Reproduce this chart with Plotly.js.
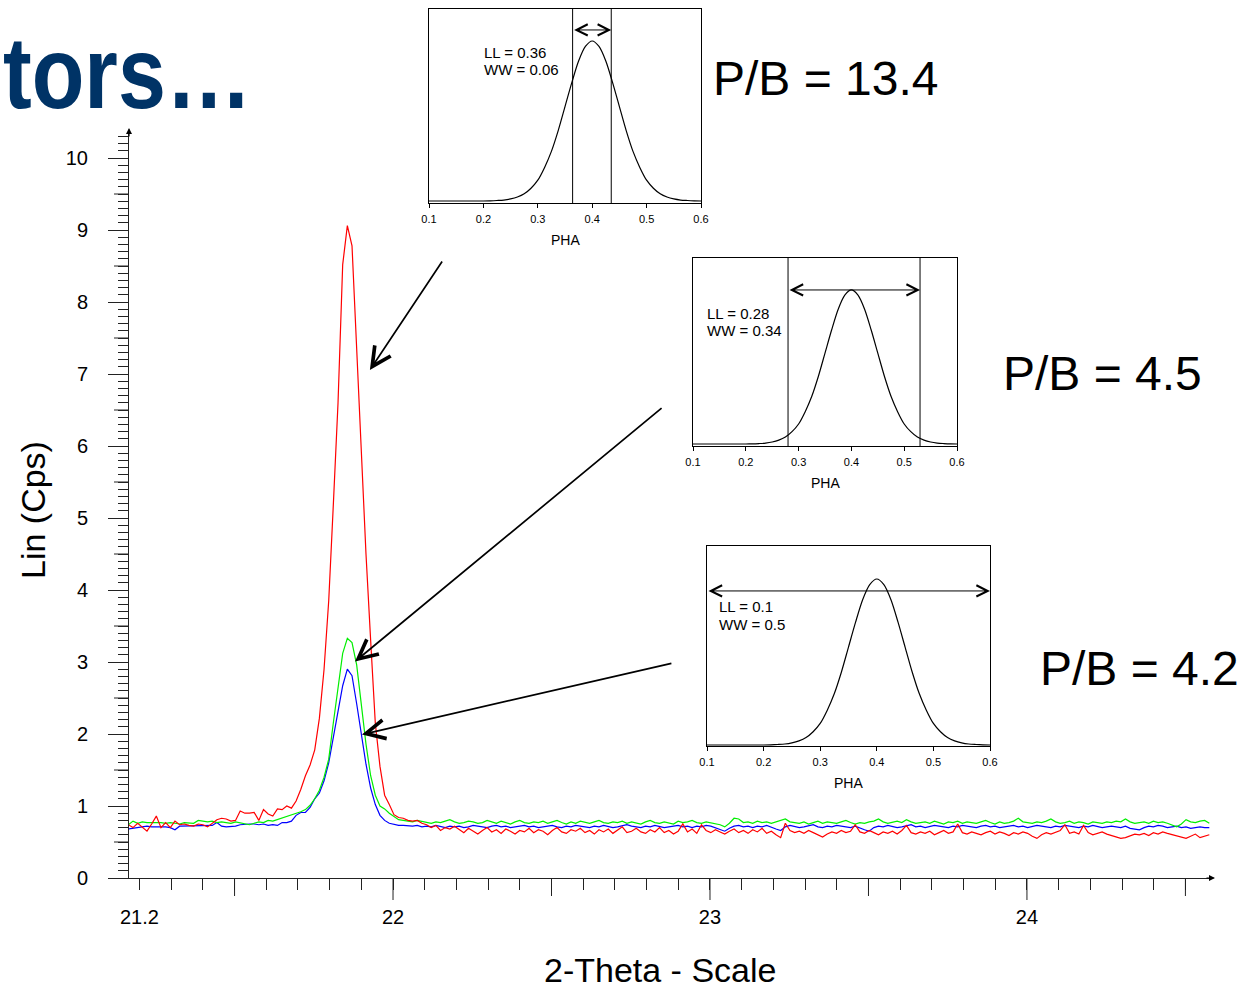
<!DOCTYPE html>
<html><head><meta charset="utf-8">
<script src="https://cdn.plot.ly/plotly-3.0.1.min.js"></script>
<style>html,body{margin:0;padding:0;background:#fff;} #chart{width:1253px;height:988px;}</style>
</head><body><div id="chart"></div>
<script>
// ---------------- data ----------------
const twoThetaStart = 21.165;
const twoThetaStep = 0.0147;

const redCps = [
0.74,0.70,0.76,0.70,0.65,0.75,0.86,0.70,0.77,0.70,0.79,0.74,0.75,0.73,0.72,0.75,0.74,0.71,0.76,0.81,0.83,0.82,0.79,0.80,0.93,0.90,0.90,0.91,0.80,0.95,0.89,0.86,0.96,
0.95,1.00,0.97,1.07,1.23,1.42,1.57,1.78,2.22,2.90,3.85,5.20,6.60,8.52,9.06,8.78,7.35,5.90,4.50,3.30,2.15,1.55,1.15,1.02,0.88,0.84,0.83,0.80,
0.79,0.80,0.76,0.74,0.70,0.73,0.66,0.70,0.68,0.72,
0.67,0.63,0.69,0.65,0.61,0.66,0.70,0.64,0.67,0.62,
0.68,0.65,0.61,0.66,0.64,0.69,0.63,0.67,0.65,0.60,
0.66,0.70,0.64,0.62,0.67,0.65,0.69,0.63,0.66,0.61,
0.67,0.64,0.68,0.62,0.66,0.71,0.63,0.65,0.69,0.64,
0.62,0.67,0.64,0.70,0.63,0.66,0.61,0.65,0.75,0.64,
0.68,0.62,0.74,0.66,0.63,0.67,0.64,0.61,0.65,0.68,
0.63,0.66,0.62,0.67,0.64,0.69,0.62,0.65,0.60,0.56,
0.76,0.66,0.63,0.65,0.62,0.66,0.63,0.60,0.57,0.61,
0.64,0.62,0.66,0.63,0.65,0.74,0.64,0.62,0.66,0.63,
0.60,0.64,0.62,0.65,0.61,0.66,0.73,0.63,0.61,0.64,
0.62,0.65,0.60,0.63,0.66,0.62,0.64,0.75,0.63,0.61,
0.64,0.62,0.60,0.63,0.65,0.61,0.64,0.62,0.59,0.63,
0.61,0.64,0.62,0.58,0.55,0.60,0.63,0.61,0.64,0.66,
0.74,0.62,0.64,0.61,0.73,0.63,0.60,0.62,0.64,0.61,
0.59,0.57,0.55,0.56,0.58,0.61,0.60,0.62,0.59,0.63,
0.61,0.64,0.62,0.60,0.58,0.57,0.55,0.58,0.61,0.56,
0.58,0.60
];

const greenCps = [
0.74,0.79,0.76,0.78,0.77,0.77,0.78,0.77,0.76,0.77,0.76,0.75,0.77,0.77,0.76,0.80,0.79,0.78,0.79,0.77,0.78,0.77,0.76,0.78,0.77,0.75,0.74,0.76,0.78,0.77,0.80,0.79,0.81,
0.83,0.85,0.87,0.89,0.92,0.95,1.01,1.10,1.22,1.40,1.65,2.16,2.66,3.12,3.33,3.27,2.96,2.42,1.86,1.42,1.15,1.00,0.96,0.90,0.85,0.81,0.80,0.79,
0.78,0.80,0.79,0.77,0.76,0.78,0.77,0.79,0.81,0.78,
0.76,0.77,0.79,0.78,0.76,0.77,0.80,0.78,0.76,0.79,
0.77,0.75,0.78,0.80,0.77,0.76,0.78,0.77,0.79,0.76,
0.78,0.80,0.77,0.75,0.78,0.76,0.79,0.77,0.76,0.78,
0.80,0.77,0.76,0.78,0.77,0.79,0.76,0.78,0.77,0.75,
0.78,0.80,0.77,0.76,0.78,0.77,0.75,0.79,0.77,0.78,
0.80,0.77,0.76,0.78,0.77,0.75,0.74,0.71,0.76,0.83,
0.82,0.77,0.78,0.76,0.79,0.77,0.78,0.76,0.78,0.79,
0.82,0.78,0.77,0.76,0.78,0.75,0.77,0.79,0.76,0.78,
0.77,0.76,0.78,0.80,0.77,0.75,0.77,0.76,0.78,0.79,
0.82,0.78,0.76,0.77,0.79,0.77,0.81,0.78,0.76,0.77,
0.78,0.76,0.79,0.77,0.75,0.78,0.77,0.79,0.76,0.78,
0.77,0.76,0.78,0.80,0.77,0.75,0.78,0.76,0.77,0.79,
0.83,0.78,0.77,0.76,0.78,0.77,0.79,0.82,0.78,0.76,
0.77,0.79,0.76,0.78,0.77,0.75,0.78,0.77,0.76,0.78,
0.77,0.79,0.78,0.82,0.78,0.76,0.77,0.78,0.76,0.79,
0.77,0.78,0.76,0.74,0.71,0.75,0.81,0.78,0.77,0.79,
0.80,0.76
];

const blueCps = [
0.68,0.69,0.71,0.71,0.72,0.71,0.71,0.72,0.71,0.70,0.67,0.72,0.72,0.73,0.72,0.72,0.73,0.72,0.73,0.77,0.72,0.71,0.71,0.72,0.74,0.75,0.75,0.75,0.74,0.75,0.73,0.74,0.73,
0.77,0.77,0.79,0.87,0.91,0.91,0.98,1.10,1.18,1.35,1.60,1.95,2.27,2.67,2.90,2.81,2.42,1.97,1.58,1.25,1.02,0.87,0.80,0.76,0.74,0.73,0.73,0.72,
0.72,0.73,0.71,0.72,0.71,0.73,0.72,0.70,0.72,0.71,
0.72,0.70,0.71,0.73,0.72,0.71,0.70,0.72,0.73,0.71,
0.72,0.70,0.71,0.72,0.73,0.71,0.72,0.70,0.71,0.72,
0.73,0.71,0.70,0.72,0.71,0.73,0.72,0.71,0.70,0.72,
0.71,0.73,0.72,0.70,0.71,0.72,0.74,0.72,0.71,0.70,
0.72,0.71,0.73,0.72,0.70,0.71,0.72,0.73,0.71,0.72,
0.70,0.72,0.71,0.73,0.72,0.70,0.68,0.65,0.69,0.72,
0.73,0.71,0.72,0.70,0.72,0.71,0.73,0.70,0.68,0.66,
0.71,0.73,0.72,0.70,0.71,0.72,0.74,0.71,0.70,0.72,
0.71,0.73,0.72,0.71,0.70,0.72,0.69,0.67,0.65,0.70,
0.72,0.71,0.73,0.72,0.70,0.71,0.72,0.74,0.71,0.72,
0.70,0.71,0.73,0.72,0.71,0.70,0.72,0.71,0.73,0.72,
0.71,0.70,0.72,0.73,0.71,0.72,0.70,0.71,0.72,0.73,
0.71,0.72,0.70,0.71,0.73,0.72,0.71,0.70,0.72,0.71,
0.73,0.72,0.71,0.70,0.72,0.71,0.73,0.72,0.70,0.71,
0.72,0.71,0.70,0.72,0.69,0.68,0.67,0.70,0.72,0.71,
0.73,0.72,0.70,0.71,0.72,0.70,0.71,0.69,0.70,0.71,
0.70,0.70
];

const xLabelTicks = [21.2, 22, 23, 24];
const xLabelText = ['21.2', '22', '23', '24'];
const xLongTicks = [22, 23, 24];
const xHalfTicks = [21.5, 22.5, 23.5, 24.5];
const yMajorTicks = [0, 1, 2, 3, 4, 5, 6, 7, 8, 9, 10];
const yHalfTicks = [0.5, 1.5, 2.5, 3.5, 4.5, 5.5, 6.5, 7.5, 8.5, 9.5];

// pulse-height spectrum shown in the three insets
const phaStart = 0.1;
const phaStep = 0.0125;
const phaCounts = [0,0,0,0,0,0,0,0,0,0.001,0.003,0.006,0.013,0.025,0.045,0.08,0.13,0.21,0.31,0.44,0.59,0.74,0.875,0.966,1.0,
                   0.966,0.875,0.74,0.59,0.44,0.31,0.21,0.13,0.08,0.045,0.025,0.013,0.006,0.003,0.001,0];
const phaTicks = [0.1, 0.2, 0.3, 0.4, 0.5, 0.6];
const phaTickLabels = ['0.1', '0.2', '0.3', '0.4', '0.5', '0.6'];
const windowLower = [0.364, 0.28, 0.1];
const windowUpper = [0.435, 0.53, 0.6];
const llLabels = ['LL = 0.36', 'LL = 0.28', 'LL = 0.1'];
const wwLabels = ['WW = 0.06', 'WW = 0.34', 'WW = 0.5'];
const pbLabels = ['P/B = 13.4', 'P/B = 4.5', 'P/B = 4.2'];

// arrows pointing from each inset to its peak (2-theta, cps)
const arrowTipX = [21.927, 21.880, 21.902];
const arrowTipY = [7.056, 3.007, 1.993];
const arrowTailX = [22.158, 22.852, 22.883];
const arrowTailY = [8.583, 6.542, 2.986];

// ---------------- layout helpers ----------------
const W = 1253, H = 988;
const fx = p => p / W;
const fy = p => (H - p) / H;
const FONT = 'Liberation Sans, Arial, Helvetica, sans-serif';
const AX = '#222';

const main = {l: 129, r: 1213, t: 130, b: 878};
const xRange = [21.167, 24.587];
const yRange = [0, 10.389];

const insets = [
  {l: 429, r: 701, t: 9,   b: 203, yr: [-0.0125, 1.2],    arrowY: 1.069, textX: 482, textY: [52, 69],   pbX: 711, pbY: 78},
  {l: 693, r: 957, t: 258, b: 446, yr: [-0.0129, 1.2075], arrowY: 1.0,   textX: 705, textY: [313, 330], pbX: 1001, pbY: 373},
  {l: 707, r: 990, t: 546, b: 746, yr: [-0.006, 1.1988],  arrowY: 0.928, textX: 717, textY: [606, 624], pbX: 1038, pbY: 668}
];

const traces = [
  {type: 'scatter', mode: 'lines', x0: twoThetaStart, dx: twoThetaStep, y: blueCps,  line: {color: '#0000ff', width: 1.2}, xaxis: 'x', yaxis: 'y', name: 'LL 0.1'},
  {type: 'scatter', mode: 'lines', x0: twoThetaStart, dx: twoThetaStep, y: greenCps, line: {color: '#00ee00', width: 1.2}, xaxis: 'x', yaxis: 'y', name: 'LL 0.28'},
  {type: 'scatter', mode: 'lines', x0: twoThetaStart, dx: twoThetaStep, y: redCps,   line: {color: '#ff0000', width: 1.2}, xaxis: 'x', yaxis: 'y', name: 'LL 0.36'}
];

const layout = {
  width: W, height: H,
  margin: {l: 0, r: 0, t: 0, b: 0},
  paper_bgcolor: '#fff', plot_bgcolor: 'rgba(0,0,0,0)',
  showlegend: false, hovermode: false,
  font: {family: FONT, color: '#000'},
  xaxis: {
    domain: [fx(main.l), fx(main.r)], range: xRange, anchor: 'y',
    showline: true, linecolor: AX, linewidth: 1, showgrid: false, zeroline: false,
    tickmode: 'array', tickvals: xLabelTicks, ticktext: xLabelText,
    ticks: 'outside', ticklen: 11, tickwidth: 1, tickcolor: AX,
    tickfont: {family: FONT, size: 20, color: '#000'}, ticklabelstandoff: 10,
    minor: {ticks: 'outside', tickmode: 'linear', tick0: 0, dtick: 0.1, ticklen: 11, tickwidth: 1, tickcolor: AX, showgrid: false}
  },
  yaxis: {
    domain: [fy(main.b), fy(main.t)], range: yRange, anchor: 'x',
    showline: true, linecolor: AX, linewidth: 1, showgrid: false, zeroline: false,
    tickmode: 'array', tickvals: yMajorTicks,
    ticks: 'outside', ticklen: 20, tickwidth: 1, tickcolor: AX,
    tickfont: {family: FONT, size: 20, color: '#000'}, ticklabelstandoff: 16,
    minor: {ticks: 'outside', tickmode: 'linear', tick0: 0, dtick: 0.1, ticklen: 10, tickwidth: 1, tickcolor: AX, showgrid: false}
  },
  shapes: [],
  annotations: []
};

// longer ticks at whole and half degrees, half counts
xLongTicks.forEach(v => layout.shapes.push({type: 'line', xref: 'x', yref: 'paper', ysizemode: 'pixel', yanchor: fy(main.b),
  x0: v, x1: v, y0: 0, y1: -22, line: {color: AX, width: 1}}));
xHalfTicks.forEach(v => layout.shapes.push({type: 'line', xref: 'x', yref: 'paper', ysizemode: 'pixel', yanchor: fy(main.b),
  x0: v, x1: v, y0: 0, y1: -18, line: {color: AX, width: 1}}));
yHalfTicks.forEach(v => layout.shapes.push({type: 'line', xref: 'paper', yref: 'y', xsizemode: 'pixel', xanchor: fx(main.l),
  x0: 0, x1: -15, y0: v, y1: v, line: {color: AX, width: 1}}));

insets.forEach((ins, k) => {
  const xa = 'x' + (k + 2), ya = 'y' + (k + 2);
  layout['xaxis' + (k + 2)] = {
    domain: [fx(ins.l), fx(ins.r)], range: [0.1, 0.6], anchor: ya,
    showline: true, mirror: true, linecolor: '#000', linewidth: 1, showgrid: false, zeroline: false,
    tickmode: 'array', tickvals: phaTicks, ticktext: phaTickLabels,
    ticks: 'outside', ticklen: 4, tickwidth: 1, tickcolor: '#000',
    tickfont: {family: FONT, size: 11, color: '#000'}, ticklabelstandoff: 2
  };
  layout['yaxis' + (k + 2)] = {
    domain: [fy(ins.b), fy(ins.t)], range: ins.yr, anchor: xa,
    showline: true, mirror: true, linecolor: '#000', linewidth: 1, showgrid: false, zeroline: false,
    ticks: '', showticklabels: false
  };
  traces.push({type: 'scatter', mode: 'lines', x0: phaStart, dx: phaStep, y: phaCounts,
    line: {color: '#000', width: 1.2, shape: 'spline', smoothing: 0.8}, xaxis: xa, yaxis: ya, name: 'PHA ' + (k + 1)});
  if (k < 2) {
    [windowLower[k], windowUpper[k]].forEach(v => layout.shapes.push({
      type: 'line', xref: xa, yref: ya + ' domain', x0: v, x1: v, y0: 0, y1: 1, line: {color: '#000', width: 1}
    }));
  }
  layout.annotations.push({
    xref: xa, yref: ya, axref: xa, ayref: ya,
    x: windowUpper[k], y: ins.arrowY, ax: windowLower[k], ay: ins.arrowY,
    text: '', showarrow: true, arrowside: 'end+start', arrowhead: 5, startarrowhead: 5,
    arrowsize: 2.2, startarrowsize: 2.2, arrowwidth: 1, arrowcolor: '#000', standoff: 0, startstandoff: 0
  });
  layout.annotations.push({xref: 'paper', yref: 'paper', x: fx(ins.textX), y: fy(ins.textY[0]), xanchor: 'left', yanchor: 'middle',
    text: llLabels[k], showarrow: false, font: {family: FONT, size: 15, color: '#000'}});
  layout.annotations.push({xref: 'paper', yref: 'paper', x: fx(ins.textX), y: fy(ins.textY[1]), xanchor: 'left', yanchor: 'middle',
    text: wwLabels[k], showarrow: false, font: {family: FONT, size: 15, color: '#000'}});
  layout.annotations.push({xref: 'paper', yref: 'paper', x: fx((ins.l + ins.r) / 2), y: fy(ins.b + 37), xanchor: 'center', yanchor: 'middle',
    text: 'PHA', showarrow: false, font: {family: FONT, size: 14, color: '#000'}});
  layout.annotations.push({xref: 'paper', yref: 'paper', x: fx(ins.pbX), y: fy(ins.pbY), xanchor: 'left', yanchor: 'middle',
    text: pbLabels[k], showarrow: false, font: {family: FONT, size: 48, color: '#000'}});
});

// arrows from the insets to the peaks
arrowTipX.forEach((tx, k) => layout.annotations.push({
  xref: 'x', yref: 'y', axref: 'x', ayref: 'y',
  x: tx, y: arrowTipY[k], ax: arrowTailX[k], ay: arrowTailY[k],
  text: '', showarrow: true, arrowhead: 5, arrowsize: 2.2, arrowwidth: 1.7, arrowcolor: '#000', standoff: 0
}));

// axis-end arrowheads
layout.annotations.push({xref: 'paper', yref: 'paper', x: fx(main.l), y: fy(main.t - 2), ax: 0, ay: 10,
  text: '', showarrow: true, arrowhead: 2, arrowsize: 1, arrowwidth: 1.2, arrowcolor: '#000', standoff: 0});
layout.annotations.push({xref: 'paper', yref: 'paper', x: fx(main.r + 2), y: fy(main.b), ax: -10, ay: 0,
  text: '', showarrow: true, arrowhead: 2, arrowsize: 1, arrowwidth: 1.2, arrowcolor: '#000', standoff: 0});

// axis titles and slide heading
layout.annotations.push({xref: 'paper', yref: 'paper', x: fx(33), y: fy(510), xanchor: 'center', yanchor: 'middle',
  text: 'Lin (Cps)', textangle: -90, showarrow: false, font: {family: FONT, size: 34, color: '#000'}});
layout.annotations.push({xref: 'paper', yref: 'paper', x: fx(660), y: fy(970), xanchor: 'center', yanchor: 'middle',
  text: '2-Theta - Scale', showarrow: false, font: {family: FONT, size: 34, color: '#000'}});
const HEADING = 'tors…';
layout.annotations.push({xref: 'paper', yref: 'paper', x: fx(1), y: fy(73), xanchor: 'left', yanchor: 'middle',
  text: HEADING, showarrow: false,
  font: {family: FONT, size: 102, weight: 700, color: '#003366'}});

Plotly.newPlot('chart', traces, layout, {staticPlot: true, displayModeBar: false}).then(gd => {
  // the slide heading uses a narrow bold face: compress it horizontally
  gd.querySelectorAll('.annotation-text').forEach(t => {
    if (t.textContent === HEADING) {
      t.style.transformBox = 'fill-box';
      t.style.transformOrigin = 'left center';
      t.style.transform = 'scaleX(0.845)';
    }
  });
});
</script>
</body></html>
